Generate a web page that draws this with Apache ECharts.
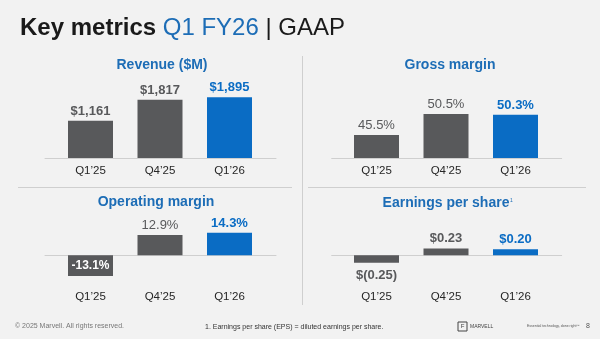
<!DOCTYPE html>
<html><head><meta charset="utf-8">
<script src="https://cdn.jsdelivr.net/npm/echarts@6/dist/echarts.min.js"></script>
<style>html,body{margin:0;padding:0;background:#f2f2f2}#c{width:600px;height:339px}</style>
</head><body><div id="c"></div>
<script>
var categories = ["Q1\u201925", "Q4\u201925", "Q1\u201926"];
var revenue = [1161, 1817, 1895];
var grossMargin = [45.5, 50.5, 50.3];
var operatingMargin = [-13.1, 12.9, 14.3];
var eps = [-0.25, 0.23, 0.20];
var panelTitles = ["Revenue ($M)", "Gross margin", "Operating margin", "Earnings per share"];

var FONT = "'Liberation Sans', Arial, sans-serif";
var GREY = "#58595b", BLUE = "#0a6cc4", TBLUE = "#1d6db6", LINE = "#cfcfcf";

function fmtRev(v){ return "$" + v.toLocaleString("en-US"); }
function fmtPct(v){ return v.toFixed(1) + "%"; }
function fmtEps(v){ return v < 0 ? "$(" + Math.abs(v).toFixed(2) + ")" : "$" + v.toFixed(2); }

var panels = [
  {vals: revenue, fmt: fmtRev, grid:{left:55.75, top:94, width:208.5, height:64}, aux:{left:45, width:231}, min:0, max:2000, margin:7, bold:true},
  {vals: grossMargin, fmt: fmtPct, grid:{left:341.75, top:95, width:208.5, height:63}, aux:{left:331.7, width:230}, min:40, max:55, margin:7, bold:false},
  {vals: operatingMargin, fmt: fmtPct, grid:{left:55.75, top:231.6, width:208.5, height:47.4}, aux:{left:45, width:231}, min:-15, max:15, margin:12, bold:false},
  {vals: eps, fmt: fmtEps, grid:{left:341.75, top:231.3, width:208.5, height:48}, aux:{left:331.7, width:230}, min:-0.8, max:0.8, margin:12, bold:true}
];

var grids = [], xAxes = [], yAxes = [], series = [];
panels.forEach(function(p, i){
  var gi = grids.length;
  grids.push({left:p.grid.left, top:p.grid.top, width:p.grid.width, height:p.grid.height});
  grids.push({left:p.aux.left, top:p.grid.top, width:p.aux.width, height:p.grid.height});
  xAxes.push({type:"category", gridIndex:gi, data:categories, axisLine:{show:false, onZero:false}, axisTick:{show:false},
    axisLabel:{margin:p.margin, color:"#262626", fontSize:11.5, fontFamily:FONT}});
  xAxes.push({type:"category", gridIndex:gi+1, data:categories, axisLine:{show:true, onZero:true, lineStyle:{color:LINE, width:1}},
    axisTick:{show:false}, axisLabel:{show:false}});
  yAxes.push({type:"value", gridIndex:gi, min:p.min, max:p.max, show:false, splitLine:{show:false}});
  yAxes.push({type:"value", gridIndex:gi+1, min:p.min, max:p.max, show:false, splitLine:{show:false}});
  var last = p.vals.length - 1;
  series.push({
    type:"bar", xAxisIndex:gi, yAxisIndex:gi, barWidth:45, silent:true, animation:false,
    data: p.vals.map(function(v, k){
      var isLast = k === last;
      var item = {value:v, itemStyle:{color: isLast ? BLUE : GREY}};
      var lab = {show:true, formatter:function(o){ return p.fmt(o.value); }, fontFamily:FONT, fontSize:13,
        fontWeight: (p.bold || isLast) ? "bold" : "normal", color: isLast ? BLUE : GREY, distance:3};
      if (v < 0 && i === 2) { lab.position = "inside"; lab.color = "#ffffff"; lab.fontWeight = "bold"; lab.fontSize = 12; }
      else if (v < 0) { lab.position = "bottom"; lab.distance = 6; }
      else { lab.position = "top"; }
      item.label = lab;
      return item;
    })
  });
});

var chart = echarts.init(document.getElementById("c"), null, {renderer:"canvas"});
chart.setOption({
  backgroundColor:"#f2f2f2",
  animation:false,
  title:{
    text:"{a|Key metrics }{b|Q1 FY26}{c| | GAAP}", left:15, top:11,
    textStyle:{fontWeight:"normal", rich:{
      a:{fontFamily:FONT, fontSize:24, fontWeight:"bold", color:"#1a1a1a"},
      b:{fontFamily:FONT, fontSize:24, fontWeight:"normal", color:TBLUE},
      c:{fontFamily:FONT, fontSize:24, fontWeight:"normal", color:"#1a1a1a"}
    }}
  },
  grid:grids, xAxis:xAxes, yAxis:yAxes, series:series,
  graphic:[
    {type:"line", shape:{x1:302.5, y1:56, x2:302.5, y2:305}, style:{stroke:LINE, lineWidth:1}, silent:true},
    {type:"line", shape:{x1:18, y1:187.5, x2:292, y2:187.5}, style:{stroke:LINE, lineWidth:1}, silent:true},
    {type:"line", shape:{x1:308, y1:187.5, x2:586, y2:187.5}, style:{stroke:LINE, lineWidth:1}, silent:true},
    {type:"text", x:162, y:65, style:{text:panelTitles[0], textAlign:"center", textVerticalAlign:"middle", font:"bold 14px " + FONT, fill:TBLUE}},
    {type:"text", x:450, y:65, style:{text:panelTitles[1], textAlign:"center", textVerticalAlign:"middle", font:"bold 14px " + FONT, fill:TBLUE}},
    {type:"text", x:156, y:202, style:{text:panelTitles[2], textAlign:"center", textVerticalAlign:"middle", font:"bold 14px " + FONT, fill:TBLUE}},
    {type:"text", x:446, y:203, style:{text:panelTitles[3], textAlign:"center", textVerticalAlign:"middle", font:"bold 14px " + FONT, fill:TBLUE}},
    {type:"text", x:510, y:201, style:{text:"1", textAlign:"left", textVerticalAlign:"middle", font:"5px " + FONT, fill:TBLUE}},
    {type:"text", x:15, y:326, style:{text:"\u00a9 2025 Marvell. All rights reserved.", textAlign:"left", textVerticalAlign:"middle", font:"7px " + FONT, fill:"#777777"}},
    {type:"text", x:205, y:327, style:{text:"1. Earnings per share (EPS) = diluted earnings per share.", textAlign:"left", textVerticalAlign:"middle", font:"7px " + FONT, fill:"#333333"}},
    {type:"rect", shape:{x:458, y:322, width:9, height:9}, style:{fill:"none", stroke:"#444", lineWidth:1}},
    {type:"text", x:462.5, y:326.5, style:{text:"F", textAlign:"center", textVerticalAlign:"middle", font:"6px " + FONT, fill:"#444"}},
    {type:"text", x:470, y:326.5, style:{text:"MARVELL", textAlign:"left", textVerticalAlign:"middle", font:"5px " + FONT, fill:"#444"}},
    {type:"text", x:527, y:326.5, style:{text:"Essential technology, done right\u2122", textAlign:"left", textVerticalAlign:"middle", font:"3.5px " + FONT, fill:"#555"}},
    {type:"text", x:586, y:326.5, style:{text:"8", textAlign:"left", textVerticalAlign:"middle", font:"7px " + FONT, fill:"#555"}}
  ]
});
</script>
</body></html>
